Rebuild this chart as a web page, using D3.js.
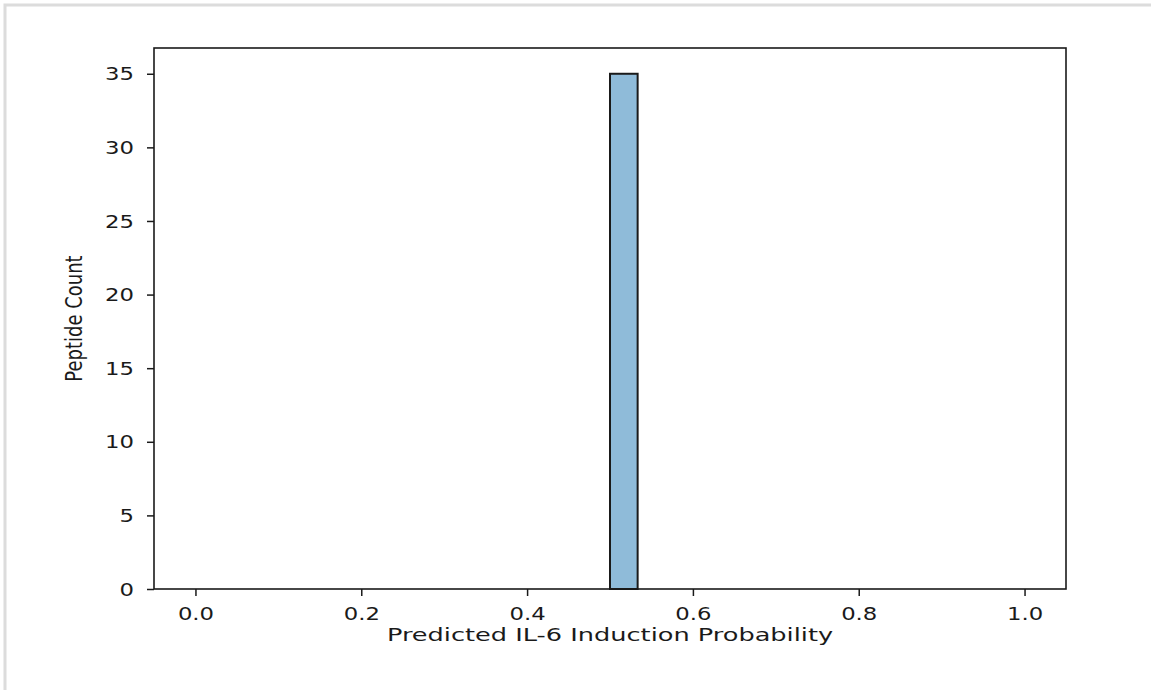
<!DOCTYPE html>
<html>
<head>
<meta charset="utf-8">
<script src="https://cdn.jsdelivr.net/npm/d3@7"></script>
<style>
  html, body { margin: 0; padding: 0; background: #fff; }
  svg { display: block; font-family: "DejaVu Sans", sans-serif; }
</style>
</head>
<body>
<div id="hist"></div>
<script>
// histogram data: 30 bins over [0, 1]
const binLo = 0, binHi = 1;
const binCounts = [0, 0, 0, 0, 0, 0, 0, 0, 0, 0,
                   0, 0, 0, 0, 0, 35, 0, 0, 0, 0,
                   0, 0, 0, 0, 0, 0, 0, 0, 0, 0];
const xTicks = [0.0, 0.2, 0.4, 0.6, 0.8, 1.0];
const yTicks = [0, 5, 10, 15, 20, 25, 30, 35];
const xLabel = "Predicted IL-6 Induction Probability";
const yLabel = "Peptide Count";

function drawHist(cWidth, cHeight) {
  const margin = { left: 154, top: 48, right: cWidth - 1066, bottom: cHeight - 589 },
    w = cWidth - margin.left - margin.right,
    h = cHeight - margin.top - margin.bottom,
    sx = 1.3, // the picture is stretched horizontally
    fs = 17.5,
    ink = "#1a1a1a",
    svg = d3.select("#hist").append("svg")
      .attr("width", cWidth)
      .attr("height", cHeight);

  // light frame at top/left
  svg.append("path")
    .attr("d", `M5,${cHeight} V5 H${cWidth}`)
    .attr("fill", "none")
    .attr("stroke", "#dcdcdc")
    .attr("stroke-width", 3);

  const g = svg.append("g").attr("transform", `translate(${margin.left},${margin.top})`);
  const pad = (binHi - binLo) * 0.05;
  const x = d3.scaleLinear().domain([binLo - pad, binHi + pad]).range([0, w]);
  const yMax = d3.max(binCounts) * 1.05;
  const y = d3.scaleLinear().domain([0, yMax]).range([h, 0]);
  const step = (binHi - binLo) / binCounts.length;

  // bars
  g.selectAll(".bar")
    .data(binCounts)
    .enter()
    .append("rect")
    .attr("class", "bar")
    .attr("x", (_, i) => x(binLo + i * step))
    .attr("width", (_, i) => x(binLo + (i + 1) * step) - x(binLo + i * step))
    .attr("y", d => y(d))
    .attr("height", d => h - y(d))
    .attr("fill", "#8fbbd9")
    .attr("stroke", ink)
    .attr("stroke-width", 2);

  // axes
  const xAxis = g.append("g")
    .attr("transform", `translate(0,${h})`)
    .call(d3.axisBottom(x).tickValues(xTicks).tickFormat(d3.format(".1f")).tickSize(7).tickSizeOuter(0));
  const yAxis = g.append("g")
    .call(d3.axisLeft(y).tickValues(yTicks).tickSize(7).tickSizeOuter(0));

  [xAxis, yAxis].forEach(a => {
    a.select(".domain").remove();
    a.selectAll(".tick line").attr("stroke", ink).attr("stroke-width", 1.5);
    a.selectAll(".tick text")
      .attr("fill", ink)
      .style("font-size", fs + "px")
      .style("font-family", "DejaVu Sans");
  });
  xAxis.selectAll(".tick text")
    .attr("x", 0).attr("y", 31).attr("dy", 0)
    .attr("transform", `scale(${sx},1)`);
  yAxis.selectAll(".tick text")
    .attr("x", -20 / sx).attr("dy", "0.35em")
    .attr("transform", `scale(${sx},1)`);

  // frame
  g.append("rect")
    .attr("width", w).attr("height", h)
    .attr("fill", "none")
    .attr("stroke", ink)
    .attr("stroke-width", 1.6);

  // axis labels
  svg.append("text")
    .attr("transform", `translate(${margin.left + w / 2},641) scale(1.385,1)`)
    .attr("text-anchor", "middle")
    .attr("fill", ink)
    .style("font-size", "18.5px")
    .text(xLabel);
  svg.append("text")
    .attr("transform", `translate(82,${margin.top + h / 2}) scale(${sx},1) rotate(-90)`)
    .attr("text-anchor", "middle")
    .attr("fill", ink)
    .style("font-size", "18px")
    .text(yLabel);
}

drawHist(1151, 690);
</script>
</body>
</html>
